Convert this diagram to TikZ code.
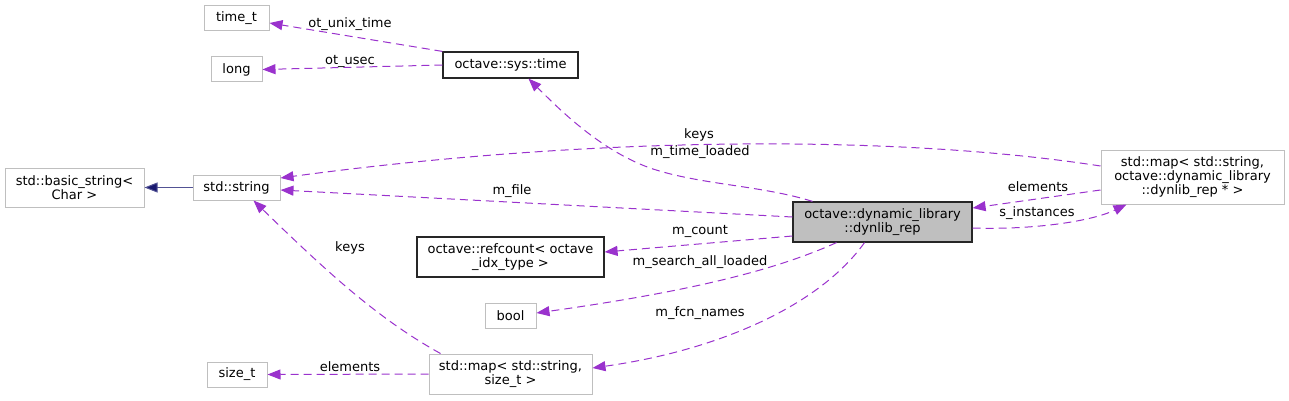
\documentclass[tikz,border=0pt]{standalone}
\usepackage{fontspec}
\setmainfont{DejaVu Sans}
\usetikzlibrary{arrows.meta}
\definecolor{pur}{HTML}{9A32CD}
\definecolor{gbox}{HTML}{BFBFBF}
\definecolor{navy}{HTML}{191970}
\begin{document}
\begin{tikzpicture}[x=1pt,y=-1pt,
  every node/.style={font=\fontsize{13}{14}\selectfont, inner sep=0pt, align=center},
  gnode/.style={draw=gbox, line width=1pt, fill=white},
  bnode/.style={draw=black!85, line width=1.2pt, fill=white},
  edge/.style={draw=pur, line width=1pt, dash pattern=on 8pt off 5pt, -{Triangle[length=13pt,width=10pt]}},
  inh/.style={draw=navy!75, line width=1pt, -{Triangle[length=13pt,width=10pt,fill=navy]}},
  lbl/.style={fill=none}]
\useasboundingbox (0,0) rectangle (1289,401);
% nodes
\node[gnode, minimum width=65pt, minimum height=25pt] (timet) at (236.5,18.5) {time\_t};
\node[gnode, minimum width=51pt, minimum height=25pt] (long) at (236.5,69.5) {long};
\node[bnode, minimum width=135pt, minimum height=26pt] (systime) at (510.5,65) {octave::sys::time};
\node[gnode, minimum width=139pt, minimum height=39pt] (basicstr) at (74.5,187.5) {std::basic\_string\textless\\Char \textgreater};
\node[gnode, minimum width=87pt, minimum height=25pt] (string) at (236.5,187.5) {std::string};
\node[gnode, minimum width=183pt, minimum height=54pt] (mapdyn) at (1192.5,177) {std::map\textless{} std::string,\\octave::dynamic\_library\\::dynlib\_rep * \textgreater};
\node[bnode, fill=gbox, minimum width=179pt, minimum height=40pt] (dynlib) at (882.5,222) {octave::dynamic\_library\\::dynlib\_rep};
\node[bnode, minimum width=187pt, minimum height=40pt] (refcount) at (510.5,257) {octave::refcount\textless{} octave\\\_idx\_type \textgreater};
\node[gnode, minimum width=51pt, minimum height=25pt] (bool) at (510.5,315.5) {bool};
\node[gnode, minimum width=163pt, minimum height=40pt] (mapsize) at (510.5,374) {std::map\textless{} std::string,\\size\_t \textgreater};
\node[gnode, minimum width=60pt, minimum height=25pt] (sizet) at (237,374.5) {size\_t};
% edges
\draw[inh] (string.west) -- (basicstr.east);
\draw[edge] (systime.north west) -- ([yshift=-4.5pt]timet.east);
\draw[edge] (systime.west) -- (long.east);
\draw[edge] ([xshift=-70pt]dynlib.north) .. controls (760,185) and (700,185) .. (650,168) .. controls (600,150) and (560,110) .. ([xshift=18pt]systime.south);
\draw[edge] ([yshift=11pt]mapdyn.west) .. controls (900,135) and (600,135) .. ([yshift=9.5pt]string.east);
\draw[edge] ([yshift=5pt]dynlib.west) -- ([yshift=-2.5pt]string.east);
\draw[edge] ([yshift=-14pt]dynlib.west) -- ([yshift=5pt]refcount.east);
\draw[edge] ([xshift=-46pt]dynlib.south) .. controls (780,268) and (700,290) .. ([yshift=2.5pt]bool.east);
\draw[edge] ([xshift=-18pt]dynlib.south) .. controls (820,305) and (720,350) .. ([yshift=6pt]mapsize.east);
\draw[edge] ([xshift=-70pt]mapsize.north) .. controls (380,320) and (330,275) .. ([xshift=17pt]string.south);
\draw[edge] (mapsize.west) -- (sizet.east);
\draw[edge] ([yshift=-13pt]mapdyn.west) -- ([yshift=14pt]dynlib.east);
\draw[edge] ([yshift=-6pt]dynlib.east) .. controls (1030,230) and (1090,222) .. ([xshift=-66pt]mapdyn.south);
% labels
\node[lbl] (l1) at (350,24) {ot\_unix\_time};
\node[lbl] (l2) at (350,61) {ot\_usec};
\node[lbl] (l3) at (699,135) {keys};
\node[lbl] (l4) at (700,152) {m\_time\_loaded};
\node[lbl] (l5) at (512,191) {m\_file};
\node[lbl] (l6) at (700,231) {m\_count};
\node[lbl] (l7) at (700,262) {m\_search\_all\_loaded};
\node[lbl] (l8) at (700,313) {m\_fcn\_names};
\node[lbl] (l9) at (350,248) {keys};
\node[lbl] (l10) at (350,367) {elements};
\node[lbl] (l11) at (1038,187) {elements};
\node[lbl] (l12) at (1037,213) {s\_instances};
\end{tikzpicture}
\end{document}
